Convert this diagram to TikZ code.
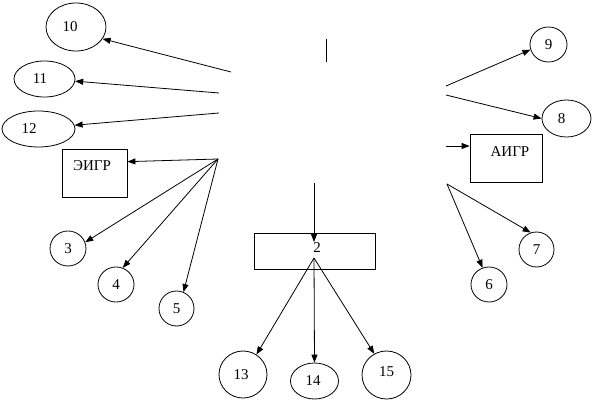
\documentclass[tikz,border=0pt]{standalone}
\usepackage{fontspec}
\setmainfont{Liberation Serif}
\usetikzlibrary{arrows.meta,shapes.geometric}
\begin{document}
\begin{tikzpicture}[x=1pt,y=-1pt,
  every node/.style={font=\fontsize{15}{17}\selectfont, inner sep=0pt},
  ell/.style={draw, ellipse, line width=0.8pt},
  bx/.style={draw, rectangle, line width=0.8pt},
  ln/.style={line width=0.8pt},
  arr/.style={line width=0.8pt, -{Triangle[length=8pt,width=6pt]}}]
\useasboundingbox (0,0) rectangle (594,403);
% shapes
\node[ell, minimum width=60, minimum height=48] (e10) at (76,27) {10\kern12pt};
\node[ell, minimum width=61, minimum height=36] (e11) at (44.5,79) {11\kern9pt};
\node[ell, minimum width=73, minimum height=36] (e12) at (38.5,129) {12\kern19pt};
\node[bx, minimum width=65, minimum height=48] (eigr) at (94.5,173) {ЭИГР\kern5pt\rule[-14pt]{0pt}{0pt}};
\node[ell, minimum width=36, minimum height=35] (c3) at (68,248.5) {3};
\node[ell, minimum width=36, minimum height=35] (c4) at (116,284.5) {4};
\node[ell, minimum width=35, minimum height=35] (c5) at (176.5,308.5) {5};
\node[bx, minimum width=121, minimum height=36] (b2) at (314.5,251) {\kern5pt 2\rule[-6pt]{0pt}{0pt}};
\node[ell, minimum width=48, minimum height=47] (c13) at (243,374.5) {13\kern4pt};
\node[ell, minimum width=48, minimum height=36] (e14) at (314.5,381) {14\kern3pt};
\node[ell, minimum width=49, minimum height=48] (c15) at (386.5,375) {15\rule[-6pt]{0pt}{0pt}};
\node[ell, minimum width=37, minimum height=35] (c9) at (548.5,44.5) {9};
\node[ell, minimum width=49, minimum height=37] (e8) at (566.5,118.5) {8\kern10pt};
\node[bx, minimum width=72, minimum height=48] (aigr) at (506,158) {\kern8pt АИГР\rule[-12pt]{0pt}{0pt}};
\node[ell, minimum width=35, minimum height=35] (c7) at (536.5,249.5) {7};
\node[ell, minimum width=36, minimum height=35] (c6) at (489,284.5) {6};
% free ends
\coordinate (h10) at (231,72);
\coordinate (h11) at (219,93);
\coordinate (h12) at (219,113);
\coordinate (hL) at (218,159);
\coordinate (vt) at (326,39);
\coordinate (vb) at (326,62);
\coordinate (h9) at (446,86);
\coordinate (h8) at (446,95);
\coordinate (ha) at (446,146);
\coordinate (hR) at (447,184);
\coordinate (h2) at (314,183);
\coordinate (b2in) at (314,242);
\coordinate (b2out) at (314,258);
% connectors
\draw[arr] (h10) -- (e10.-24);
\draw[arr] (h11) -- (e11.-4);
\draw[arr] (h12) -- (e12.6);
\draw[arr] (hL) -- (eigr.19);
\draw[arr] (hL) -- (c3.20);
\draw[arr] (hL) -- (c4.68);
\draw[arr] (hL) -- (c5.67);
\draw[ln] (vt) -- (vb);
\draw[arr] (h9) -- (c9.196);
\draw[arr] (h8) -- (e8.west);
\draw[arr] (ha) -- (aigr.west |- ha);
\draw[arr] (hR) -- (c7.109);
\draw[arr] (hR) -- (c6.111);
\draw[arr] (h2) -- (b2in);
\draw[arr] (b2out) -- (c13.56);
\draw[arr] (b2out) -- (e14.north);
\draw[arr] (b2out) -- (c15.120);
\end{tikzpicture}
\end{document}
